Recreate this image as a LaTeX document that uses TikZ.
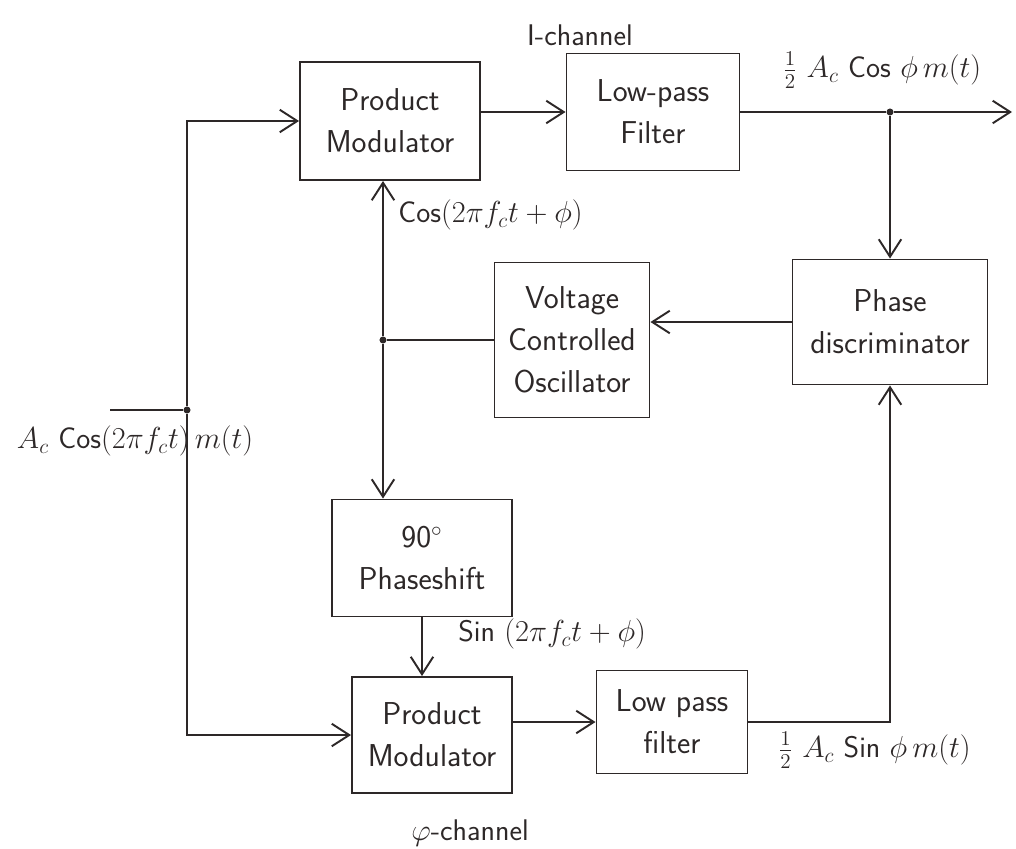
\documentclass[tikz,border=0pt]{standalone}
\usepackage{tikz}
\usetikzlibrary{arrows.meta}

\definecolor{pencil}{RGB}{45,40,40}

\begin{document}
\begin{tikzpicture}[
    x=0.2mm, y=-0.2mm,
    font=\sffamily,
    block/.style={rectangle, draw=pencil, line width=1.1pt, align=center, inner sep=2pt,
        font=\sffamily\fontsize{18}{24}\selectfont, text=pencil},
    lbl/.style={inner sep=0pt, font=\sffamily\fontsize{17}{20}\selectfont, text=pencil},
    wire/.style={draw=pencil, line width=1.1pt},
    arr/.style={wire, -{Straight Barb[length=3.5mm, width=4.5mm]}},
    dot/.style={circle, fill=pencil, minimum size=4pt, inner sep=0pt}
]
    \useasboundingbox (0,0) rectangle (1016,848);

    % --- 1. I-channel ---
    \node[block, minimum width=36mm, minimum height=23.6mm] (pmI) at (390,121) {Product\\Modulator};
    \node[block, minimum width=34.6mm, minimum height=23.4mm] (lpfI) at (653,112) {Low-pass\\Filter};
    \node[lbl] (ich) at (580,35) {I-channel};

    % --- 2. Loop ---
    \node[block, minimum width=31mm, minimum height=31mm] (vco) at (572,340) {Voltage\\Controlled\\Oscillator};
    \node[block, minimum width=39mm, minimum height=25mm] (pd) at (890,322) {Phase\\discriminator};
    \node[block, minimum width=36mm, minimum height=23.4mm] (shift) at (422,558) {90$^\circ$\\Phaseshift};

    % --- 3. Q-channel ---
    \node[block, minimum width=32mm, minimum height=23.2mm] (pmQ) at (432,735) {Product\\Modulator};
    \node[block, minimum width=30.2mm, minimum height=20.6mm] (lpfQ) at (672,722) {Low pass\\filter};
    \node[lbl] (qch) at (470,833) {$\varphi$-channel};

    % --- 4. Points ---
    \coordinate (in) at (110,410);
    \node[dot] (fork) at (187,410) {};
    \node[dot] (split) at (383,340) {};
    \node[dot] (tap) at (890,112) {};
    \coordinate (out) at (1012,112);

    % --- 5. Labels ---
    \node[lbl] (inl) at (135,441) {$A_c$ Cos$(2\pi f_c t)\,m(t)$};
    \node[lbl, anchor=west] (cosl) at (398,215) {Cos$(2\pi f_c t+\phi)$};
    \node[lbl, anchor=west] (sinl) at (458,634) {Sin $(2\pi f_c t+\phi)$};
    \node[lbl] (outI) at (882,70) {$\frac{1}{2}$ $A_c$ Cos $\phi\,m(t)$};
    \node[lbl, anchor=west] (outQ) at (778,750) {$\frac{1}{2}$ $A_c$ Sin $\phi\,m(t)$};

    % --- 6. Connections ---
    \draw[wire] (in) -- (fork);
    \draw[arr] (fork) |- (pmI.west);
    \draw[arr] (fork) |- (pmQ.west);
    \draw[arr] (pmI.east |- lpfI) -- (lpfI.west);
    \draw[wire] (lpfI.east) -- (tap);
    \draw[arr] (tap) -- (out);
    \draw[arr] (tap) -- (pd.north);
    \draw[arr] (pd.west) -- (pd.west -| vco.east);
    \draw[wire] (vco.west) -- (split);
    \draw[arr] (split) -- (split |- pmI.south);
    \draw[arr] (split) -- (split |- shift.north);
    \draw[arr] (shift.south) -- (shift.south |- pmQ.north);
    \draw[arr] (pmQ.east |- lpfQ) -- (lpfQ.west);
    \draw[arr] (lpfQ.east) -| (pd.south);

\end{tikzpicture}
\end{document}
